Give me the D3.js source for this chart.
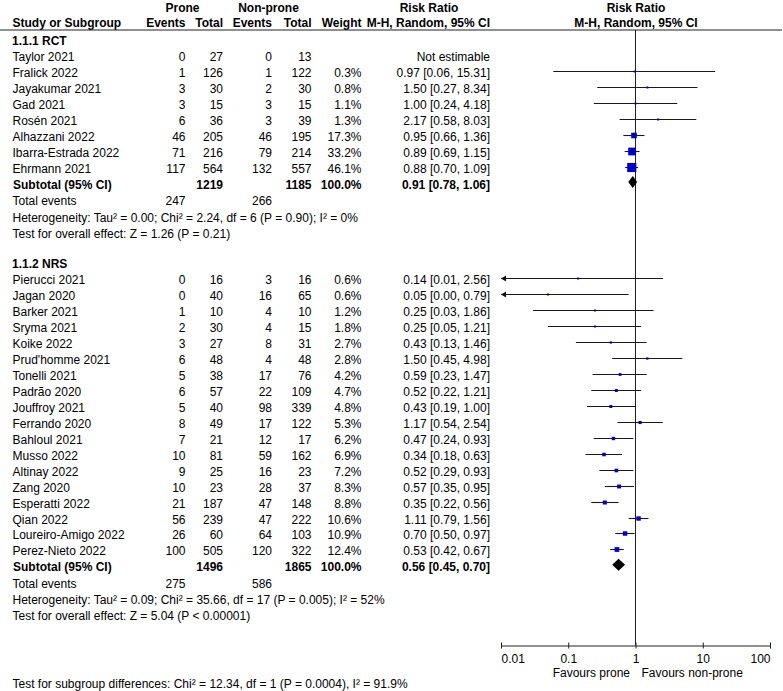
<!DOCTYPE html>
<html>
<head>
<meta charset="utf-8">
<script src="https://cdn.jsdelivr.net/npm/d3@7"></script>
<style>
  html, body { margin: 0; padding: 0; background: #fff; }
  svg { display: block; font-family: "Liberation Sans", Arial, sans-serif; font-size: 12px; }
  .b { font-weight: bold; }
</style>
</head>
<body>
<div id="chart"></div>
<script>
// RCT subgroup
const rctNames = ['Taylor 2021', 'Fralick 2022', 'Jayakumar 2021', 'Gad 2021', 'Rosén 2021', 'Alhazzani 2022', 'Ibarra-Estrada 2022', 'Ehrmann 2021'];
const rctProneEv = [0, 1, 3, 3, 6, 46, 71, 117];
const rctProneN = [27, 126, 30, 15, 36, 205, 216, 564];
const rctNonEv = [0, 1, 2, 3, 3, 46, 79, 132];
const rctNonN = [13, 122, 30, 15, 39, 195, 214, 557];
const rctWeight = [null, 0.3, 0.8, 1.1, 1.3, 17.3, 33.2, 46.1];
const rctRR = [null, 0.97, 1.50, 1.00, 2.17, 0.95, 0.89, 0.88];
const rctLo = [null, 0.06, 0.27, 0.24, 0.58, 0.66, 0.69, 0.70];
const rctHi = [null, 15.31, 8.34, 4.18, 8.03, 1.36, 1.15, 1.09];
const rctSubtotal = { proneN: 1219, nonN: 1185, rr: 0.91, lo: 0.78, hi: 1.06, proneEv: 247, nonEv: 266 };
const rctHet = 'Heterogeneity: Tau² = 0.00; Chi² = 2.24, df = 6 (P = 0.90); I² = 0%';
const rctTest = 'Test for overall effect: Z = 1.26 (P = 0.21)';

// NRS subgroup
const nrsNames = ['Pierucci 2021', 'Jagan 2020', 'Barker 2021', 'Sryma 2021', 'Koike 2022', "Prud'homme 2021", 'Tonelli 2021', 'Padrão 2020', 'Jouffroy 2021', 'Ferrando 2020', 'Bahloul 2021', 'Musso 2022', 'Altinay 2022', 'Zang 2020', 'Esperatti 2022', 'Qian 2022', 'Loureiro-Amigo 2022', 'Perez-Nieto 2022'];
const nrsProneEv = [0, 0, 1, 2, 3, 6, 5, 6, 5, 8, 7, 10, 9, 10, 21, 56, 26, 100];
const nrsProneN = [16, 40, 10, 30, 27, 48, 38, 57, 40, 49, 21, 81, 25, 23, 187, 239, 60, 505];
const nrsNonEv = [3, 16, 4, 4, 8, 4, 17, 22, 98, 17, 12, 59, 16, 28, 47, 47, 64, 120];
const nrsNonN = [16, 65, 10, 15, 31, 48, 76, 109, 339, 122, 17, 162, 23, 37, 148, 222, 103, 322];
const nrsWeight = [0.6, 0.6, 1.2, 1.8, 2.7, 2.8, 4.2, 4.7, 4.8, 5.3, 6.2, 6.9, 7.2, 8.3, 8.8, 10.6, 10.9, 12.4];
const nrsRR = [0.14, 0.05, 0.25, 0.25, 0.43, 1.50, 0.59, 0.52, 0.43, 1.17, 0.47, 0.34, 0.52, 0.57, 0.35, 1.11, 0.70, 0.53];
const nrsLo = [0.01, 0.00, 0.03, 0.05, 0.13, 0.45, 0.23, 0.22, 0.19, 0.54, 0.24, 0.18, 0.29, 0.35, 0.22, 0.79, 0.50, 0.42];
const nrsHi = [2.56, 0.79, 1.86, 1.21, 1.46, 4.98, 1.47, 1.21, 1.00, 2.54, 0.93, 0.63, 0.93, 0.95, 0.56, 1.56, 0.97, 0.67];
const nrsSubtotal = { proneN: 1496, nonN: 1865, rr: 0.56, lo: 0.45, hi: 0.70, proneEv: 275, nonEv: 586 };
const nrsHet = 'Heterogeneity: Tau² = 0.09; Chi² = 35.66, df = 17 (P = 0.005); I² = 52%';
const nrsTest = 'Test for overall effect: Z = 5.04 (P < 0.00001)';

const axisTicks = [0.01, 0.1, 1, 10, 100];
const subgroupDiff = 'Test for subgroup differences: Chi² = 12.34, df = 1 (P = 0.0004), I² = 91.9%';

const W = 783, H = 691;
const svg = d3.select('#chart').append('svg').attr('width', W).attr('height', H);

const x = d3.scaleLog().domain([0.01, 100]).range([501, 770]);
const rowY = i => 45 + i * 15.95;
const axisY = 645.5;

// column right edges
const col = { pe: 185.5, pn: 223, ne: 272, nn: 311.5, w: 361.5, rr: 490 };
const f2 = d3.format('.2f');
const f1 = d3.format('.1f');

function txt(xp, yp, s, anchor, cls) {
  return svg.append('text').attr('x', xp).attr('y', yp).attr('text-anchor', anchor || 'start')
    .attr('class', cls || null).text(s);
}

// header
txt(182.5, 12, 'Prone', 'middle', 'b');
txt(268.5, 12, 'Non-prone', 'middle', 'b');
txt(429, 12, 'Risk Ratio', 'middle', 'b');
txt(636, 12, 'Risk Ratio', 'middle', 'b');
txt(12.5, 27, 'Study or Subgroup', 'start', 'b');
txt(col.pe, 27, 'Events', 'end', 'b');
txt(col.pn, 27, 'Total', 'end', 'b');
txt(col.ne, 27, 'Events', 'end', 'b');
txt(col.nn, 27, 'Total', 'end', 'b');
txt(col.w, 27, 'Weight', 'end', 'b');
txt(col.rr, 27, 'M-H, Random, 95% CI', 'end', 'b');
txt(636, 27, 'M-H, Random, 95% CI', 'middle', 'b');
svg.append('line').attr('x1', 0).attr('x2', 782).attr('y1', 30).attr('y2', 30)
  .attr('stroke', '#222').attr('stroke-width', 1.2);

// null line
svg.append('line').attr('x1', x(1)).attr('x2', x(1)).attr('y1', 30).attr('y2', axisY)
  .attr('stroke', '#222').attr('stroke-width', 1);

const plot = svg.append('g');

function drawGroup(start, title, names, pe, pn, ne, nn, w, rr, lo, hi, sub, het, test) {
  txt(12, rowY(start), title, 'start', 'b');
  names.forEach((nm, i) => {
    const y = rowY(start + 1 + i);
    txt(12.5, y, nm);
    txt(col.pe, y, pe[i], 'end');
    txt(col.pn, y, pn[i], 'end');
    txt(col.ne, y, ne[i], 'end');
    txt(col.nn, y, nn[i], 'end');
    if (rr[i] == null) {
      txt(col.rr, y, 'Not estimable', 'end');
      return;
    }
    txt(col.w, y, f1(w[i]) + '%', 'end');
    txt(col.rr, y, `${f2(rr[i])} [${f2(lo[i])}, ${f2(hi[i])}]`, 'end');

    const cy = Math.round(y - 6) + 0.5;
    const clipped = lo[i] <= 0.01;
    const x1 = clipped ? x.range()[0] : x(lo[i]);
    plot.append('line').attr('x1', x1).attr('x2', Math.min(x(hi[i]), x.range()[1]))
      .attr('y1', cy).attr('y2', cy).attr('stroke', '#1a1a1a').attr('stroke-width', 1.1);
    if (clipped) {
      plot.append('path').attr('d', `M${x1},${cy}L${x1 + 5},${cy - 3}L${x1 + 5},${cy + 3}Z`).attr('fill', '#111');
    }
    const s = Math.max(2, 1.35 * Math.sqrt(w[i]));
    plot.append('rect').attr('x', x(rr[i]) - s / 2).attr('y', cy - s / 2)
      .attr('width', s).attr('height', s).attr('fill', '#0000c8');
  });
  const sy = rowY(start + 1 + names.length);
  txt(13, sy, 'Subtotal (95% CI)', 'start', 'b');
  txt(col.pn, sy, sub.proneN, 'end', 'b');
  txt(col.nn, sy, sub.nonN, 'end', 'b');
  txt(col.w, sy, '100.0%', 'end', 'b');
  txt(col.rr, sy, `${f2(sub.rr)} [${f2(sub.lo)}, ${f2(sub.hi)}]`, 'end', 'b');
  const dy = sy - 6.5;
  plot.append('path')
    .attr('d', `M${x(sub.lo)},${dy}L${x(sub.rr)},${dy - 6}L${x(sub.hi)},${dy}L${x(sub.rr)},${dy + 6}Z`)
    .attr('fill', '#000');

  const ty = sy + 16.7;
  txt(12.5, ty, 'Total events');
  txt(col.pe, ty, sub.proneEv, 'end');
  txt(col.ne, ty, sub.nonEv, 'end');
  txt(12.5, ty + 16.3, het);
  txt(12.5, ty + 32.4, test);
}

drawGroup(0, '1.1.1 RCT', rctNames, rctProneEv, rctProneN, rctNonEv, rctNonN, rctWeight, rctRR, rctLo, rctHi, rctSubtotal, rctHet, rctTest);
drawGroup(14, '1.1.2 NRS', nrsNames, nrsProneEv, nrsProneN, nrsNonEv, nrsNonN, nrsWeight, nrsRR, nrsLo, nrsHi, nrsSubtotal, nrsHet, nrsTest);

// axis
const axis = d3.axisBottom(x).tickValues(axisTicks).tickFormat(d => String(d)).tickSizeOuter(0).tickSizeInner(3).tickPadding(6);
const ag = svg.append('g').attr('transform', `translate(0,${axisY})`).call(axis);
ag.select('.domain').attr('stroke', '#222').attr('stroke-width', 1.1);
ag.selectAll('.tick line').attr('y1', -3).attr('y2', 3).attr('stroke', '#222');
ag.selectAll('.tick text').attr('font-family', '"Liberation Sans", Arial, sans-serif').attr('font-size', 12)
  .attr('fill', '#000').attr('dy', null).attr('y', 17)
  .attr('text-anchor', (d, i) => i === 0 ? 'start' : (i === axisTicks.length - 1 ? 'end' : 'middle'));

txt(630, 677, 'Favours prone', 'end');
txt(641.5, 677, 'Favours non-prone', 'start');

txt(12.5, 688, subgroupDiff);
</script>
</body>
</html>
